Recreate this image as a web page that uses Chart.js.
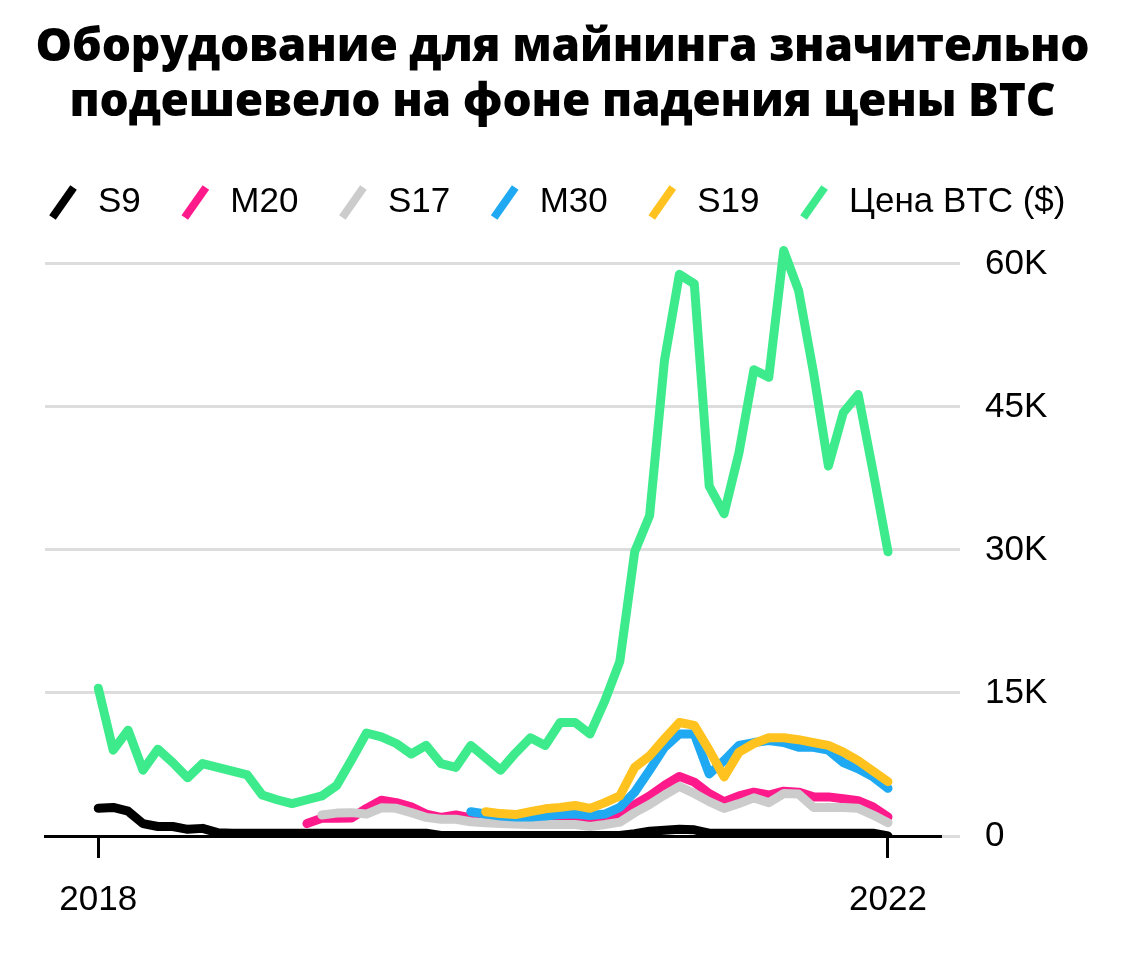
<!DOCTYPE html>
<html lang="ru">
<head>
<meta charset="utf-8">
<script src="https://cdn.jsdelivr.net/npm/chart.js@4.4.1/dist/chart.umd.min.js"></script>
<style>
html,body{margin:0;padding:0;background:#fff;}
body{width:1125px;height:961px;position:relative;overflow:hidden;}
#title{position:absolute;left:0;top:16px;width:1125px;text-align:center;font-family:'Open Sans',sans-serif;font-weight:800;font-size:46px;line-height:55px;color:#000;z-index:2;letter-spacing:-0.2px;}
#wrap{position:absolute;left:0;top:0;width:1125px;height:961px;}
</style>
</head>
<body>
<div id="title">Оборудование для майнинга значительно<br>подешевело на фоне падения цены BTC</div>
<div id="wrap"><canvas id="c"></canvas></div>
<script>
// Monthly categories, Jan 2018 .. Jun 2022
const categories = [
  '2018-01','2018-02','2018-03','2018-04','2018-05','2018-06','2018-07','2018-08','2018-09','2018-10','2018-11','2018-12',
  '2019-01','2019-02','2019-03','2019-04','2019-05','2019-06','2019-07','2019-08','2019-09','2019-10','2019-11','2019-12',
  '2020-01','2020-02','2020-03','2020-04','2020-05','2020-06','2020-07','2020-08','2020-09','2020-10','2020-11','2020-12',
  '2021-01','2021-02','2021-03','2021-04','2021-05','2021-06','2021-07','2021-08','2021-09','2021-10','2021-11','2021-12',
  '2022-01','2022-02','2022-03','2022-04','2022-05','2022-06'
];
// values in thousands of USD
const s9 = [2.9,3.0,2.6,1.3,1.0,1.0,0.7,0.8,0.35,0.3,0.3,0.3,0.3,0.3,0.3,0.3,0.3,0.3,0.3,0.3,0.3,0.3,0.3,
  0.05,0.05,0.05,0.05,0.05,0.05,0.05,0.05,0.05,0.05,0.05,0.05,0.05,0.25,0.5,0.6,0.7,0.65,
  0.3,0.3,0.3,0.3,0.3,0.3,0.3,0.3,0.3,0.3,0.3,0.3,0.0];
const m20 = [null,null,null,null,null,null,null,null,null,null,null,null,null,null,
  1.3,1.85,1.85,1.9,2.9,3.75,3.5,3.05,2.3,1.95,2.2,1.9,1.7,1.6,1.6,1.5,1.5,1.6,1.6,1.5,1.8,2.0,
  3.3,4.2,5.3,6.25,5.65,4.45,3.6,4.2,4.6,4.3,4.7,4.6,4.1,4.1,3.9,3.7,3.05,2.0];
const s17 = [null,null,null,null,null,null,null,null,null,null,null,null,null,null,null,
  2.2,2.4,2.45,2.3,2.95,2.9,2.45,1.95,1.75,1.75,1.5,1.4,1.3,1.25,1.2,1.2,1.2,1.2,1.0,1.2,1.45,
  2.45,3.3,4.3,5.2,4.45,3.6,2.9,3.4,4.0,3.5,4.45,4.4,3.0,3.0,3.0,2.9,2.2,1.4];
const m30 = [null,null,null,null,null,null,null,null,null,null,null,null,null,null,null,null,null,null,null,null,null,null,null,null,null,
  2.55,2.3,2.1,2.0,2.0,2.1,2.25,2.3,2.15,2.3,3.0,4.6,6.9,9.3,10.7,10.7,6.5,7.9,9.5,9.8,10.0,9.8,9.3,9.3,9.0,7.7,7.05,6.2,5.0];
const s19 = [null,null,null,null,null,null,null,null,null,null,null,null,null,null,null,null,null,null,null,null,null,null,null,null,null,null,
  2.55,2.35,2.25,2.55,2.85,3.0,3.2,2.9,3.5,4.2,7.2,8.4,10.2,11.9,11.6,9.0,6.2,8.8,9.7,10.3,10.3,10.1,9.8,9.5,8.8,7.9,6.8,5.7];
const btc = [15.5,9.0,11.1,6.9,9.1,7.7,6.1,7.6,7.2,6.8,6.4,4.3,3.8,3.4,3.8,4.2,5.3,8.0,10.8,10.4,
  9.7,8.6,9.5,7.6,7.2,9.5,8.2,6.9,8.7,10.3,9.5,11.9,11.9,10.7,14.2,18.3,29.8,33.6,49.9,58.9,
  57.9,36.7,33.8,40.2,48.9,48.1,61.4,57.2,48.6,38.8,44.4,46.3,38.2,29.8];
const yTickValues = [0,15,30,45,60];
const xTickIdx = [0, categories.length - 1];

const seriesNames = ['S9','M20','S17','M30','S19','Цена BTC ($)'];
const seriesData = [s9, m20, s17, m30, s19, btc];
const seriesColors = ['#000000','#ff1a8c','#cccccc','#1ea9f2','#ffc21e','#3deb8c'];

const FONT = "'Liberation Sans', Arial, sans-serif";
const pts = arr => arr.map((v,i)=>({x:i,y:v})).filter(p=>p.y!==null);

new Chart(document.getElementById('c'), {
  type: 'line',
  data: {
    datasets: seriesNames.map((name,k)=>({
      label: name,
      data: pts(seriesData[k]),
      xAxisID: 'x',
      yAxisID: 'y',
      borderColor: seriesColors[k],
      backgroundColor: seriesColors[k],
      borderWidth: 9,
      pointRadius: 0,
      pointHoverRadius: 0,
      tension: 0,
      borderJoinStyle: 'round',
      borderCapStyle: 'round',
      fill: false,
      order: seriesNames.length - 1 - k
    }))
  },
  options: {
    responsive: true,
    maintainAspectRatio: false,
    animation: false,
    events: [],
    layout: { padding: { left: 8.5, right: 0, top: 148, bottom: 0 } },
    plugins: {
      title: { display: false },
      tooltip: { enabled: false },
      legend: {
        display: true,
        position: 'top',
        align: 'start',
        labels: {
          usePointStyle: true,
          boxWidth: 35,
          boxHeight: 26,
          padding: 37,
          color: '#000',
          font: { family: FONT, size: 35 },
          generateLabels(chart) {
            const items = Chart.defaults.plugins.legend.labels.generateLabels(chart);
            items.forEach(it => { it.pointStyle = 'line'; it.rotation = -55; it.lineCap = 'butt'; it.lineWidth = 8; });
            return items;
          },
          sort: (a,b) => a.datasetIndex - b.datasetIndex
        }
      }
    },
    scales: {
      yLeft: {
        type: 'linear', position: 'left', display: true,
        grid: { display: false }, border: { display: false }, ticks: { display: false },
        afterFit(s) { s.width = 36.5; }
      },
      x: {
        type: 'linear', min: -3.577, max: 56.49,
        grid: { drawOnChartArea: false, drawTicks: true, tickLength: 22, tickColor: '#000', tickWidth: 3, lineWidth: 3, color: '#000' },
        border: { display: true, color: '#000', width: 3 },
        ticks: {
          color: '#000', font: { family: FONT, size: 35 }, padding: 21, maxRotation: 0, autoSkip: false,
          callback: (v) => categories[v] ? categories[v].slice(0,4) : ''
        },
        afterBuildTicks(s) { s.ticks = xTickIdx.map(v => ({ value: v })); },
        afterFit(s) { s.height = 125; }
      },
      y: {
        type: 'linear', position: 'right', min: 0, max: 63.55,
        grid: { color: '#dddddd', lineWidth: 3, tickLength: 20, drawTicks: true },
        border: { display: false },
        ticks: {
          stepSize: 15, color: '#000', font: { family: FONT, size: 35 }, padding: 25,
          callback: (v) => v === 0 ? '0' : v + 'K'
        },
        afterBuildTicks(s) { s.ticks = yTickValues.map(v => ({ value: v })); },
        afterFit(s) { s.width = 185; }
      }
    }
  }
});
</script>
</body>
</html>
